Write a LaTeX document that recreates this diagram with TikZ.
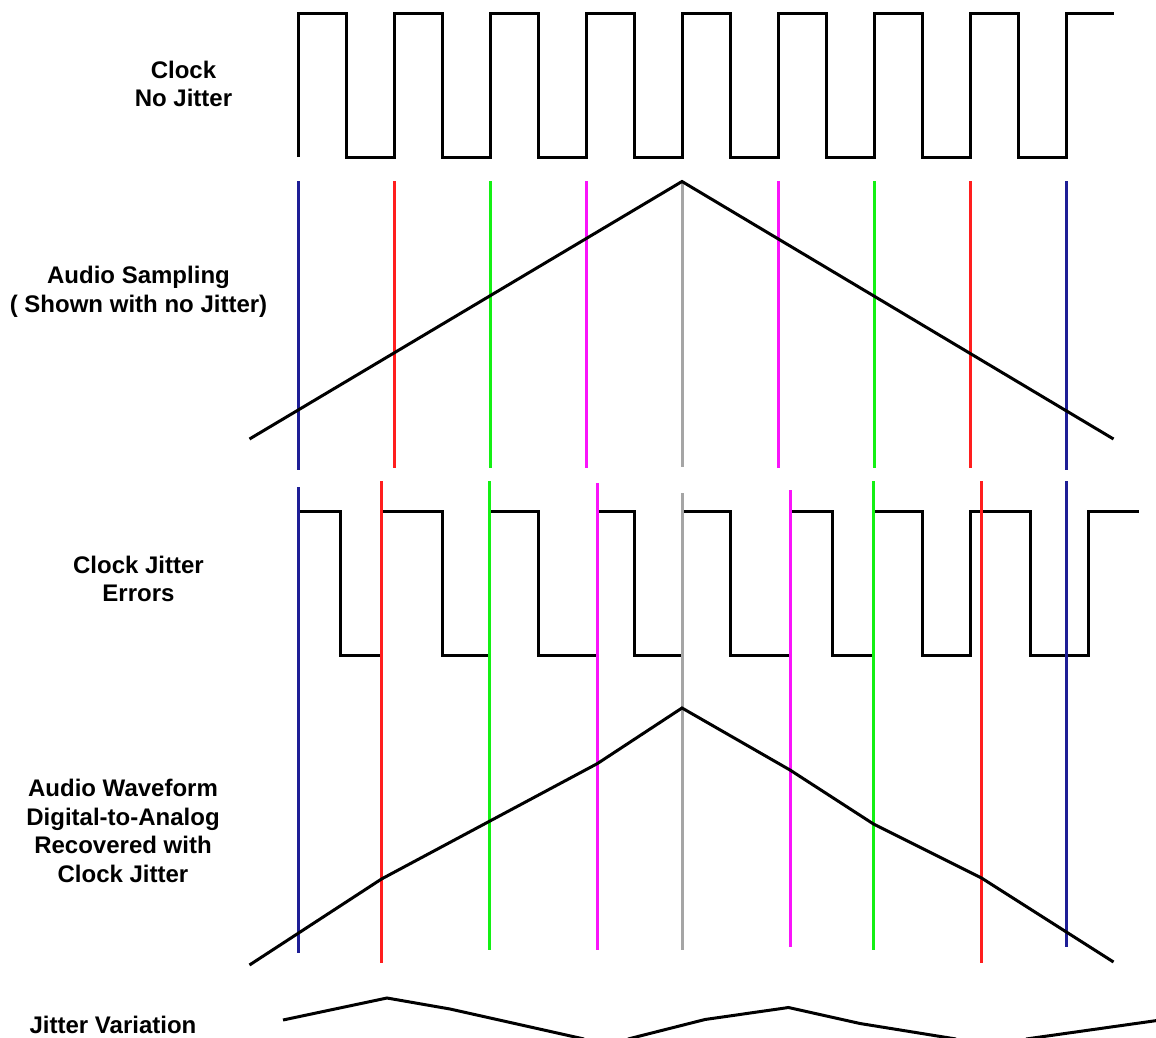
\documentclass[tikz,border=0pt]{standalone}
\usepackage{fontspec}
\setmainfont{Liberation Sans}
\definecolor{sblue}{RGB}{30,30,150}
\definecolor{sred}{RGB}{255,30,30}
\definecolor{sgreen}{RGB}{20,240,20}
\definecolor{smag}{RGB}{250,20,250}
\definecolor{sgray}{RGB}{165,165,165}
\begin{document}
\begin{tikzpicture}[x=1pt,y=-1pt,
  wave/.style={draw=black,line width=3pt,line join=miter},
  samp/.style={line width=3pt},
  lbl/.style={font=\fontsize{24}{28.8}\selectfont\bfseries,align=center,inner sep=0pt}]
\useasboundingbox (0,0) rectangle (1156,1038);
\clip (0,0) rectangle (1156,1038);

% labels
\node[lbl] (l1) at (183.5,84) {Clock\\No Jitter};
\node[lbl] (l2) at (138.5,292) {Audio Sampling\\( Shown with no Jitter)};
\node[lbl] (l3) at (138.5,579) {Clock Jitter\\Errors};
\node[lbl] (l4) at (123,831) {Audio Waveform\\Digital-to-Analog\\Recovered with\\Clock Jitter};
\node[lbl] (l5) at (113,1025) {Jitter Variation};

% clock, no jitter
\draw[wave] (298,157) -- (298,14)
  -- (346,14) -- (346,157) -- (394,157) -- (394,14)
  -- (442,14) -- (442,157) -- (490,157) -- (490,14)
  -- (538,14) -- (538,157) -- (586,157) -- (586,14)
  -- (634,14) -- (634,157) -- (682,157) -- (682,14)
  -- (730,14) -- (730,157) -- (778,157) -- (778,14)
  -- (826,14) -- (826,157) -- (874,157) -- (874,14)
  -- (922,14) -- (922,157) -- (970,157) -- (970,14)
  -- (1018,14) -- (1018,157) -- (1066,157) -- (1066,14)
  -- (1114,14);

% audio sampling lines
\draw[samp,sblue]  (298,181) -- (298,470);
\draw[samp,sred]   (394,181) -- (394,468);
\draw[samp,sgreen] (490,181) -- (490,468);
\draw[samp,smag]   (586,181) -- (586,468);
\draw[samp,sgray]  (682,182) -- (682,467);
\draw[samp,smag]   (778,181) -- (778,468);
\draw[samp,sgreen] (874,181) -- (874,468);
\draw[samp,sred]   (970,181) -- (970,468);
\draw[samp,sblue]  (1066,181) -- (1066,470);
\draw[wave] (249.5,439) -- (682,181.5) -- (1113.5,439);

% clock with jitter
\draw[wave] (298,511.5)
  -- (340,511.5) -- (340,655.5) -- (381.5,655.5) -- (381.5,511.5)
  -- (442,511.5) -- (442,655.5) -- (489.5,655.5) -- (489.5,511.5)
  -- (538,511.5) -- (538,655.5) -- (597.5,655.5) -- (597.5,511.5)
  -- (634.5,511.5) -- (634.5,655.5) -- (682,655.5) -- (682,511.5)
  -- (730,511.5) -- (730,655.5) -- (790,655.5) -- (790,511.5)
  -- (832,511.5) -- (832,655.5) -- (873.5,655.5) -- (873.5,511.5)
  -- (922,511.5) -- (922,655.5) -- (970,655.5) -- (970,511.5)
  -- (1030,511.5) -- (1030,655.5) -- (1088.5,655.5) -- (1088.5,511.5)
  -- (1138.5,511.5);

% jittered sampling lines
\draw[samp,sblue]  (298,487) -- (298,953);
\draw[samp,sred]   (381.5,481) -- (381.5,963);
\draw[samp,sgreen] (489.5,481) -- (489.5,950);
\draw[samp,smag]   (597.5,483) -- (597.5,950);
\draw[samp,sgray]  (682,493) -- (682,950);
\draw[samp,smag]   (790,490) -- (790,947);
\draw[samp,sgreen] (873.5,481) -- (873.5,950);
\draw[samp,sred]   (981.5,481) -- (981.5,963);
\draw[samp,sblue]  (1066,481) -- (1066,947);

% recovered waveform
\draw[wave] (249.5,965) -- (381.5,879) -- (597.5,763.5) -- (682,708)
  -- (790,770) -- (873.5,824) -- (981.5,878) -- (1113.5,962);

% jitter variation
\draw[wave] (283,1020) -- (387,998) -- (450,1009) -- (584,1039);
\draw[wave] (628,1039) -- (705,1019.5) -- (788.5,1007.5) -- (860,1023.5) -- (956,1039);
\draw[wave] (1026,1039) -- (1157,1020.5);
\end{tikzpicture}
\end{document}
